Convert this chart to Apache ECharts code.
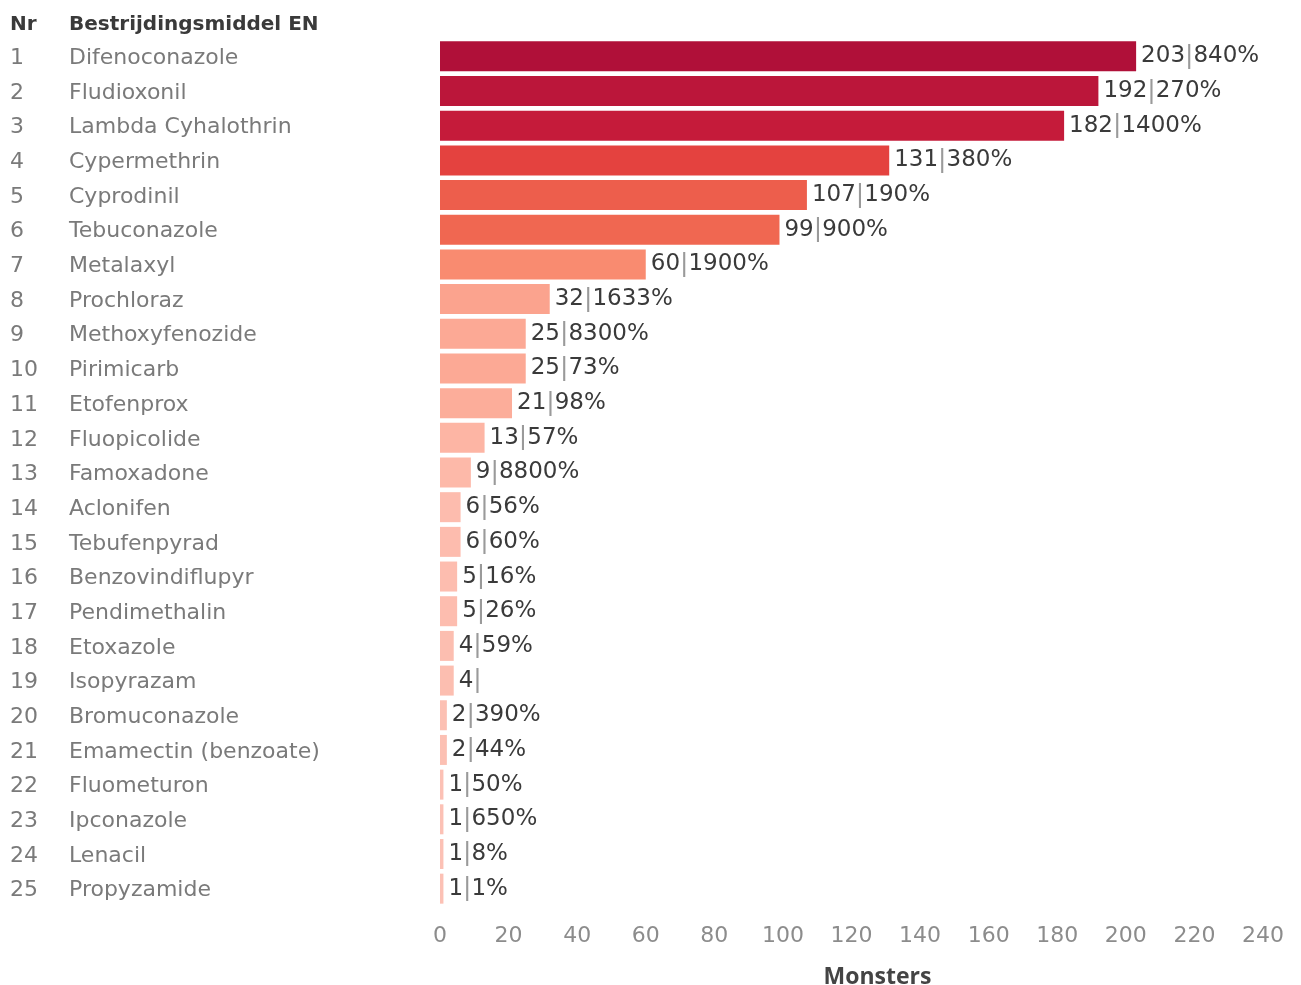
<!DOCTYPE html>
<html>
<head>
<meta charset="utf-8">
<script src="https://cdn.jsdelivr.net/npm/echarts@6/dist/echarts.min.js"></script>
<style>
html,body{margin:0;padding:0;background:#fff;}
#c{width:1301px;height:985px;}
</style>
</head>
<body>
<div id="c"></div>
<script>
const nrs = [1,2,3,4,5,6,7,8,9,10,11,12,13,14,15,16,17,18,19,20,21,22,23,24,25];
const names = ["Difenoconazole","Fludioxonil","Lambda Cyhalothrin","Cypermethrin","Cyprodinil","Tebuconazole","Metalaxyl","Prochloraz","Methoxyfenozide","Pirimicarb","Etofenprox","Fluopicolide","Famoxadone","Aclonifen","Tebufenpyrad","Benzovindiflupyr","Pendimethalin","Etoxazole","Isopyrazam","Bromuconazole","Emamectin (benzoate)","Fluometuron","Ipconazole","Lenacil","Propyzamide"];
const monsters = [203,192,182,131,107,99,60,32,25,25,21,13,9,6,6,5,5,4,4,2,2,1,1,1,1];
const percents = [840,270,1400,380,190,900,1900,1633,8300,73,98,57,8800,56,60,16,26,59,null,390,44,50,650,8,1];
const xTicks = [0,20,40,60,80,100,120,140,160,180,200,220,240];

const FONT = '"DejaVu Sans", "Open Sans", sans-serif';
const colorStops = [
  [0, [252,194,182]],
  [10, [253,184,168]],
  [25, [252,169,149]],
  [60, [249,139,112]],
  [100, [240,102,80]],
  [131, [228,66,63]],
  [182, [197,27,58]],
  [203, [176,16,57]]
];
function colorFor(v){
  for(let i=0;i<colorStops.length-1;i++){
    const a=colorStops[i], b=colorStops[i+1];
    if(v<=b[0]){
      const t=(v-a[0])/(b[0]-a[0]);
      const c=a[1].map((x,k)=>Math.round(x+(b[1][k]-x)*t));
      return 'rgb('+c.join(',')+')';
    }
  }
  return 'rgb('+colorStops[colorStops.length-1][1].join(',')+')';
}

const chart = echarts.init(document.getElementById('c'), null, {renderer:'canvas'});
const cats = names.map((n,i)=>nrs[i]+'\u0000'+n);
chart.setOption({
  animation:false,
  textStyle:{fontFamily:FONT},
  grid:{left:440,right:38,top:39,bottom:79,containLabel:false,outerBoundsMode:'none'},
  xAxis:{
    type:'value',min:0,max:240,interval:20,
    axisLine:{show:false},axisTick:{show:false},splitLine:{show:false},
    axisLabel:{color:'#8c8c8c',fontSize:22,margin:19,fontFamily:FONT,
      formatter:v=>xTicks.indexOf(v)>=0?String(v):''},
    name:'Monsters',nameLocation:'middle',nameGap:60,
    nameTextStyle:{color:'#444',fontSize:23,fontWeight:'bold',fontFamily:'"Open Sans", sans-serif',padding:[0,0,0,52]}
  },
  yAxis:{
    type:'category',inverse:true,data:cats,
    axisLine:{show:false},axisTick:{show:false},splitLine:{show:false},
    axisLabel:{
      align:'left',margin:430,fontFamily:FONT,
      formatter:v=>{const p=v.split('\u0000');return '{nr|'+p[0]+'}{nm|'+p[1]+'}';},
      rich:{
        nr:{width:59,fontSize:22,color:'#7a7a7a',fontFamily:FONT,padding:[4,0,0,0]},
        nm:{fontSize:22,color:'#7a7a7a',fontFamily:FONT,padding:[4,0,0,0]}
      }
    }
  },
  series:[{
    type:'bar',
    data:monsters.map(v=>({value:v,itemStyle:{color:colorFor(v)}})),
    barWidth:30,
    label:{
      show:true,position:'right',distance:5,fontFamily:FONT,
      formatter:p=>{const pc=percents[p.dataIndex];return '{n|'+p.value+'}{s||}'+(pc==null?'':'{n|'+pc+'%}');},
      rich:{
        n:{fontSize:23,color:'#3a3a3a',fontFamily:FONT},
        s:{fontSize:25,color:'#9a9a9a',fontFamily:FONT}
      }
    }
  }],
  graphic:[
    {type:'text',x:10,y:25,style:{text:'Nr',fontSize:20,fontWeight:'bold',fill:'#3a3a3a',fontFamily:FONT,verticalAlign:'middle'}},
    {type:'text',x:69,y:25,style:{text:'Bestrijdingsmiddel EN',fontSize:20,fontWeight:'bold',fill:'#3a3a3a',fontFamily:FONT,verticalAlign:'middle'}}
  ]
});
</script>
</body>
</html>
